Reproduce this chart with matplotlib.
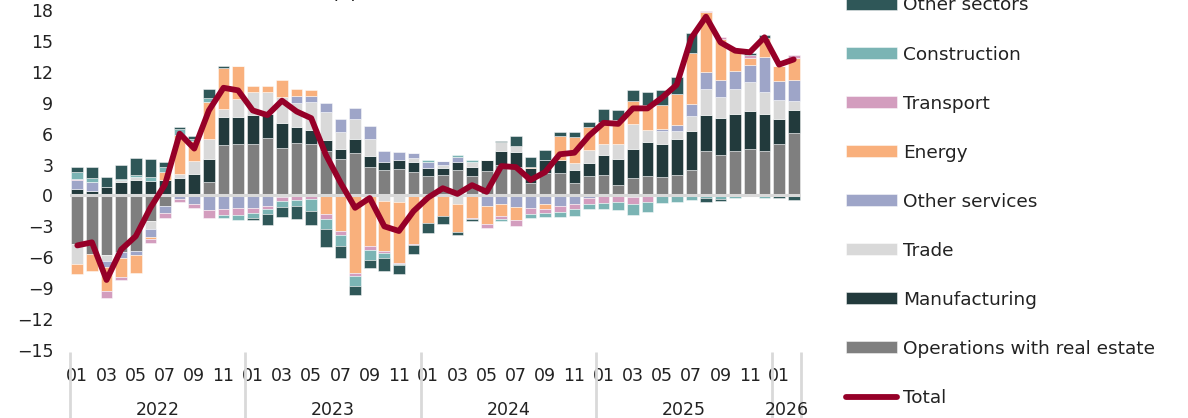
import matplotlib
matplotlib.use("Agg")
import matplotlib.pyplot as plt
from matplotlib.transforms import blended_transform_factory

# Monthly observations, January 2022 - February 2026
years = [2022, 2023, 2024, 2025, 2026]
months_per_year = [12, 12, 12, 12, 2]
month_labels = ["01", "03", "05", "07", "09", "11"]

real_estate = [
    -4.69, -5.66, -5.79, -5.47, -5.40, -2.49, -1.07, -0.05, 0.00, 1.29, 4.89, 5.02,
    5.02, 5.60, 4.60, 5.11, 5.02, 4.30, 3.56, 4.11, 2.75, 2.46, 2.56, 2.30,
    1.88, 1.95, 2.50, 1.85, 2.35, 2.98, 2.75, 1.20, 2.17, 2.17, 1.20, 1.84,
    1.94, 1.04, 1.68, 1.91, 1.78, 1.94, 2.43, 4.27, 3.95, 4.32, 4.48, 4.32,
    4.97, 6.10]
manufacturing = [
    0.61, 0.42, 0.81, 1.26, 1.52, 1.39, 1.49, 1.72, 2.07, 2.27, 2.72, 2.59,
    2.78, 2.27, 2.46, 1.55, 1.29, 1.10, 0.94, 1.36, 1.10, 0.78, 0.87, 0.94,
    0.74, 0.72, 0.72, 0.93, 1.05, 1.29, 1.42, 1.45, 1.29, 1.29, 1.29, 1.30,
    2.00, 2.49, 2.85, 3.24, 3.20, 3.53, 3.78, 3.56, 3.55, 3.56, 3.72, 3.63,
    2.49, 2.20]
trade = [
    -1.94, 0.00, -0.60, 0.20, 0.26, -0.75, 0.00, 0.39, 1.30, 1.88, 0.74, 1.78,
    2.27, 2.20, 2.49, 2.27, 2.75, 2.72, 1.62, 1.91, 1.59, -0.49, -0.61, 0.42,
    0.00, 0.28, -0.80, 0.42, 0.00, 0.87, 0.65, 0.00, 0.00, 0.00, 0.65, 1.23,
    1.03, 1.46, 2.40, 1.23, 1.23, 0.74, 1.52, 2.52, 2.01, 2.43, 2.82, 2.13,
    1.78, 0.87]
other_services = [
    0.92, 0.91, -0.58, -0.58, -0.39, -0.77, -0.65, -0.27, -0.87, -1.46, -1.33, -1.23,
    -1.20, -1.04, -0.15, 0.71, 0.61, 0.84, 1.26, 1.07, 1.29, 1.07, 0.81, 0.49,
    0.61, 0.42, 0.50, 0.00, -1.02, -0.79, -1.12, -1.25, -0.86, -1.02, -0.79, -0.20,
    -0.10, -0.10, -0.16, -0.10, 0.26, 0.58, 1.14, 1.62, 1.65, 1.78, 1.65, 3.37,
    1.88, 2.01]
energy = [
    -0.97, -1.68, -2.33, -1.88, -1.75, -0.26, 0.78, 3.75, 1.94, 3.66, 4.05, 3.17,
    0.55, 0.55, 1.62, 0.74, 0.55, -1.78, -3.46, -7.54, -4.92, -4.92, -5.92, -4.69,
    -2.65, -2.00, -2.74, -2.15, -1.71, -1.20, -1.29, 0.10, -0.48, 2.27, 2.52, 2.26,
    2.20, 2.37, 2.26, 2.42, 2.33, 3.04, 4.95, 5.80, 4.05, 2.00, 0.71, 1.81,
    1.45, 2.20]
transport = [
    0.10, 0.00, -0.65, -0.23, 0.00, -0.32, -0.42, -0.36, -0.33, -0.71, -0.55, -0.65,
    -0.49, -0.25, -0.40, -0.42, -0.36, -0.52, -0.33, -0.32, -0.42, -0.20, -0.10, -0.13,
    0.00, 0.00, 0.00, -0.16, -0.39, -0.32, -0.55, -0.58, -0.33, -0.55, -0.49, -0.59,
    -0.60, -0.50, -0.65, -0.50, 0.00, 0.00, 0.00, 0.10, 0.13, 0.16, 0.23, 0.00,
    0.00, 0.26]
construction = [
    0.68, 0.36, 0.00, 0.10, 0.23, 0.42, 0.48, 0.55, 0.17, 0.36, -0.26, -0.55,
    -0.49, -0.49, -0.58, -0.65, -1.13, -0.94, -1.13, -0.94, -0.94, -0.45, -0.13, 0.00,
    0.19, 0.00, 0.25, 0.20, 0.00, -0.17, 0.00, -0.39, -0.42, -0.52, -0.71, -0.49,
    -0.64, -0.80, -1.04, -1.03, -0.70, -0.63, -0.47, -0.20, -0.30, -0.25, 0.00, -0.20,
    0.00, -0.05]
other_sectors = [
    0.45, 1.07, 1.00, 1.35, 1.62, 1.72, 0.45, 0.20, 0.25, 0.91, 0.13, 0.00,
    -0.19, -1.04, -0.94, -1.26, -1.33, -1.78, -1.13, -0.87, -0.74, -1.23, -0.91, -0.84,
    -0.97, -0.75, -0.29, -0.17, 0.05, 0.16, 0.91, 0.94, 0.91, 0.39, 0.46, 0.46,
    1.23, 0.97, 1.07, 1.20, 1.46, 1.62, 1.94, -0.40, -0.20, 0.00, 0.26, 0.32,
    -0.28, -0.40]
total = [
    -4.85, -4.55, -8.20, -5.25, -3.95, -1.20, 1.07, 6.00, 4.55, 8.25, 10.45, 10.20,
    8.25, 7.80, 9.20, 8.15, 7.50, 3.95, 1.25, -1.20, -0.25, -3.00, -3.45, -1.52,
    -0.20, 0.70, 0.15, 1.00, 0.35, 2.85, 2.75, 1.50, 2.27, 4.00, 4.15, 5.80,
    7.05, 6.95, 8.45, 8.45, 9.50, 10.75, 15.30, 17.35, 14.85, 14.05, 13.90, 15.35,
    12.70, 13.20]

# Stacking order from the zero line outwards
series = [
    ("Operations with real estate", real_estate, "#7f7f7f"),
    ("Manufacturing", manufacturing, "#223a3c"),
    ("Trade", trade, "#d9d9d9"),
    ("Other services", other_services, "#9ea5c8"),
    ("Energy", energy, "#f9b07c"),
    ("Transport", transport, "#d39dbe"),
    ("Construction", construction, "#7bb4b4"),
    ("Other sectors", other_sectors, "#2f5758"),
]

W, H, DPI = 1188, 418, 100
fig = plt.figure(figsize=(W / DPI, H / DPI), dpi=DPI)
ax = fig.add_axes([70 / W, 1 - 350 / H, (801 - 70) / W, 340 / H])

n = len(total)
x = list(range(n))
pos = [0.0] * n
neg = [0.0] * n
handles = {}
for name, vals, col in series:
    bottoms = [pos[i] if v >= 0 else neg[i] for i, v in enumerate(vals)]
    bars = ax.bar(x, vals, bottom=bottoms, width=0.8, color=col,
                  edgecolor=(1, 1, 1, 0.55), linewidth=0.6, zorder=2)
    handles[name] = bars
    for i, v in enumerate(vals):
        if v >= 0:
            pos[i] += v
        else:
            neg[i] += v

ax.axhline(0, color="#d9d9d9", lw=2.2, zorder=3)
line, = ax.plot(x, total, color="#960028", lw=4.2, zorder=4,
                solid_joinstyle="round", solid_capstyle="round")

ax.set_xlim(-0.5, n - 0.5)
ax.set_ylim(-15, 18)
ax.set_yticks(range(-15, 19, 3))
for s in ax.spines.values():
    s.set_visible(False)
ax.tick_params(axis="both", length=0, labelsize=12.5, colors="#222222")
ax.tick_params(axis="y", pad=12)
ax.tick_params(axis="x", pad=12)

# Month ticks (odd months) and year labels beneath
ticks, labels = [], []
start = 0
year_centers = []
for yr, cnt in zip(years, months_per_year):
    for k in range(0, cnt, 2):
        ticks.append(start + k)
        labels.append(month_labels[k // 2])
    year_centers.append(start + (cnt - 1) / 2)
    start += cnt
ax.set_xticks(ticks)
ax.set_xticklabels(labels)

trans = blended_transform_factory(ax.transData, ax.transAxes)
for yr, xc in zip(years, year_centers):
    ax.text(xc, -60 / 340, str(yr), transform=trans, ha="center", va="center",
            fontsize=12.5, color="#222222")

bounds = [-0.5]
for cnt in months_per_year:
    bounds.append(bounds[-1] + cnt)
for b in bounds:
    ax.plot([b, b], [-2 / 340, -70 / 340], transform=trans, color="#d9d9d9",
            lw=2, clip_on=False, solid_capstyle="butt")

fig.text(97 / W, 1 + 3 / H, "Growth (%), contributions (p.p.)", fontsize=12.5,
         color="#222222", va="baseline", ha="left")

order = ["Other sectors", "Construction", "Transport", "Energy", "Other services",
         "Trade", "Manufacturing", "Operations with real estate"]
leg_handles = [handles[k] for k in order] + [line]
leg_labels = order + ["Total"]
leg = fig.legend(leg_handles, leg_labels, loc="upper left",
                 bbox_to_anchor=(846 / W, 1 + 3.5 / H), frameon=False,
                 fontsize=13.3, handlelength=2.76, handleheight=0.6,
                 handletextpad=0.32, labelspacing=1.68, borderaxespad=0,
                 borderpad=0)
for t in leg.get_texts():
    t.set_color("#222222")

fig.savefig("out.png", dpi=DPI)
